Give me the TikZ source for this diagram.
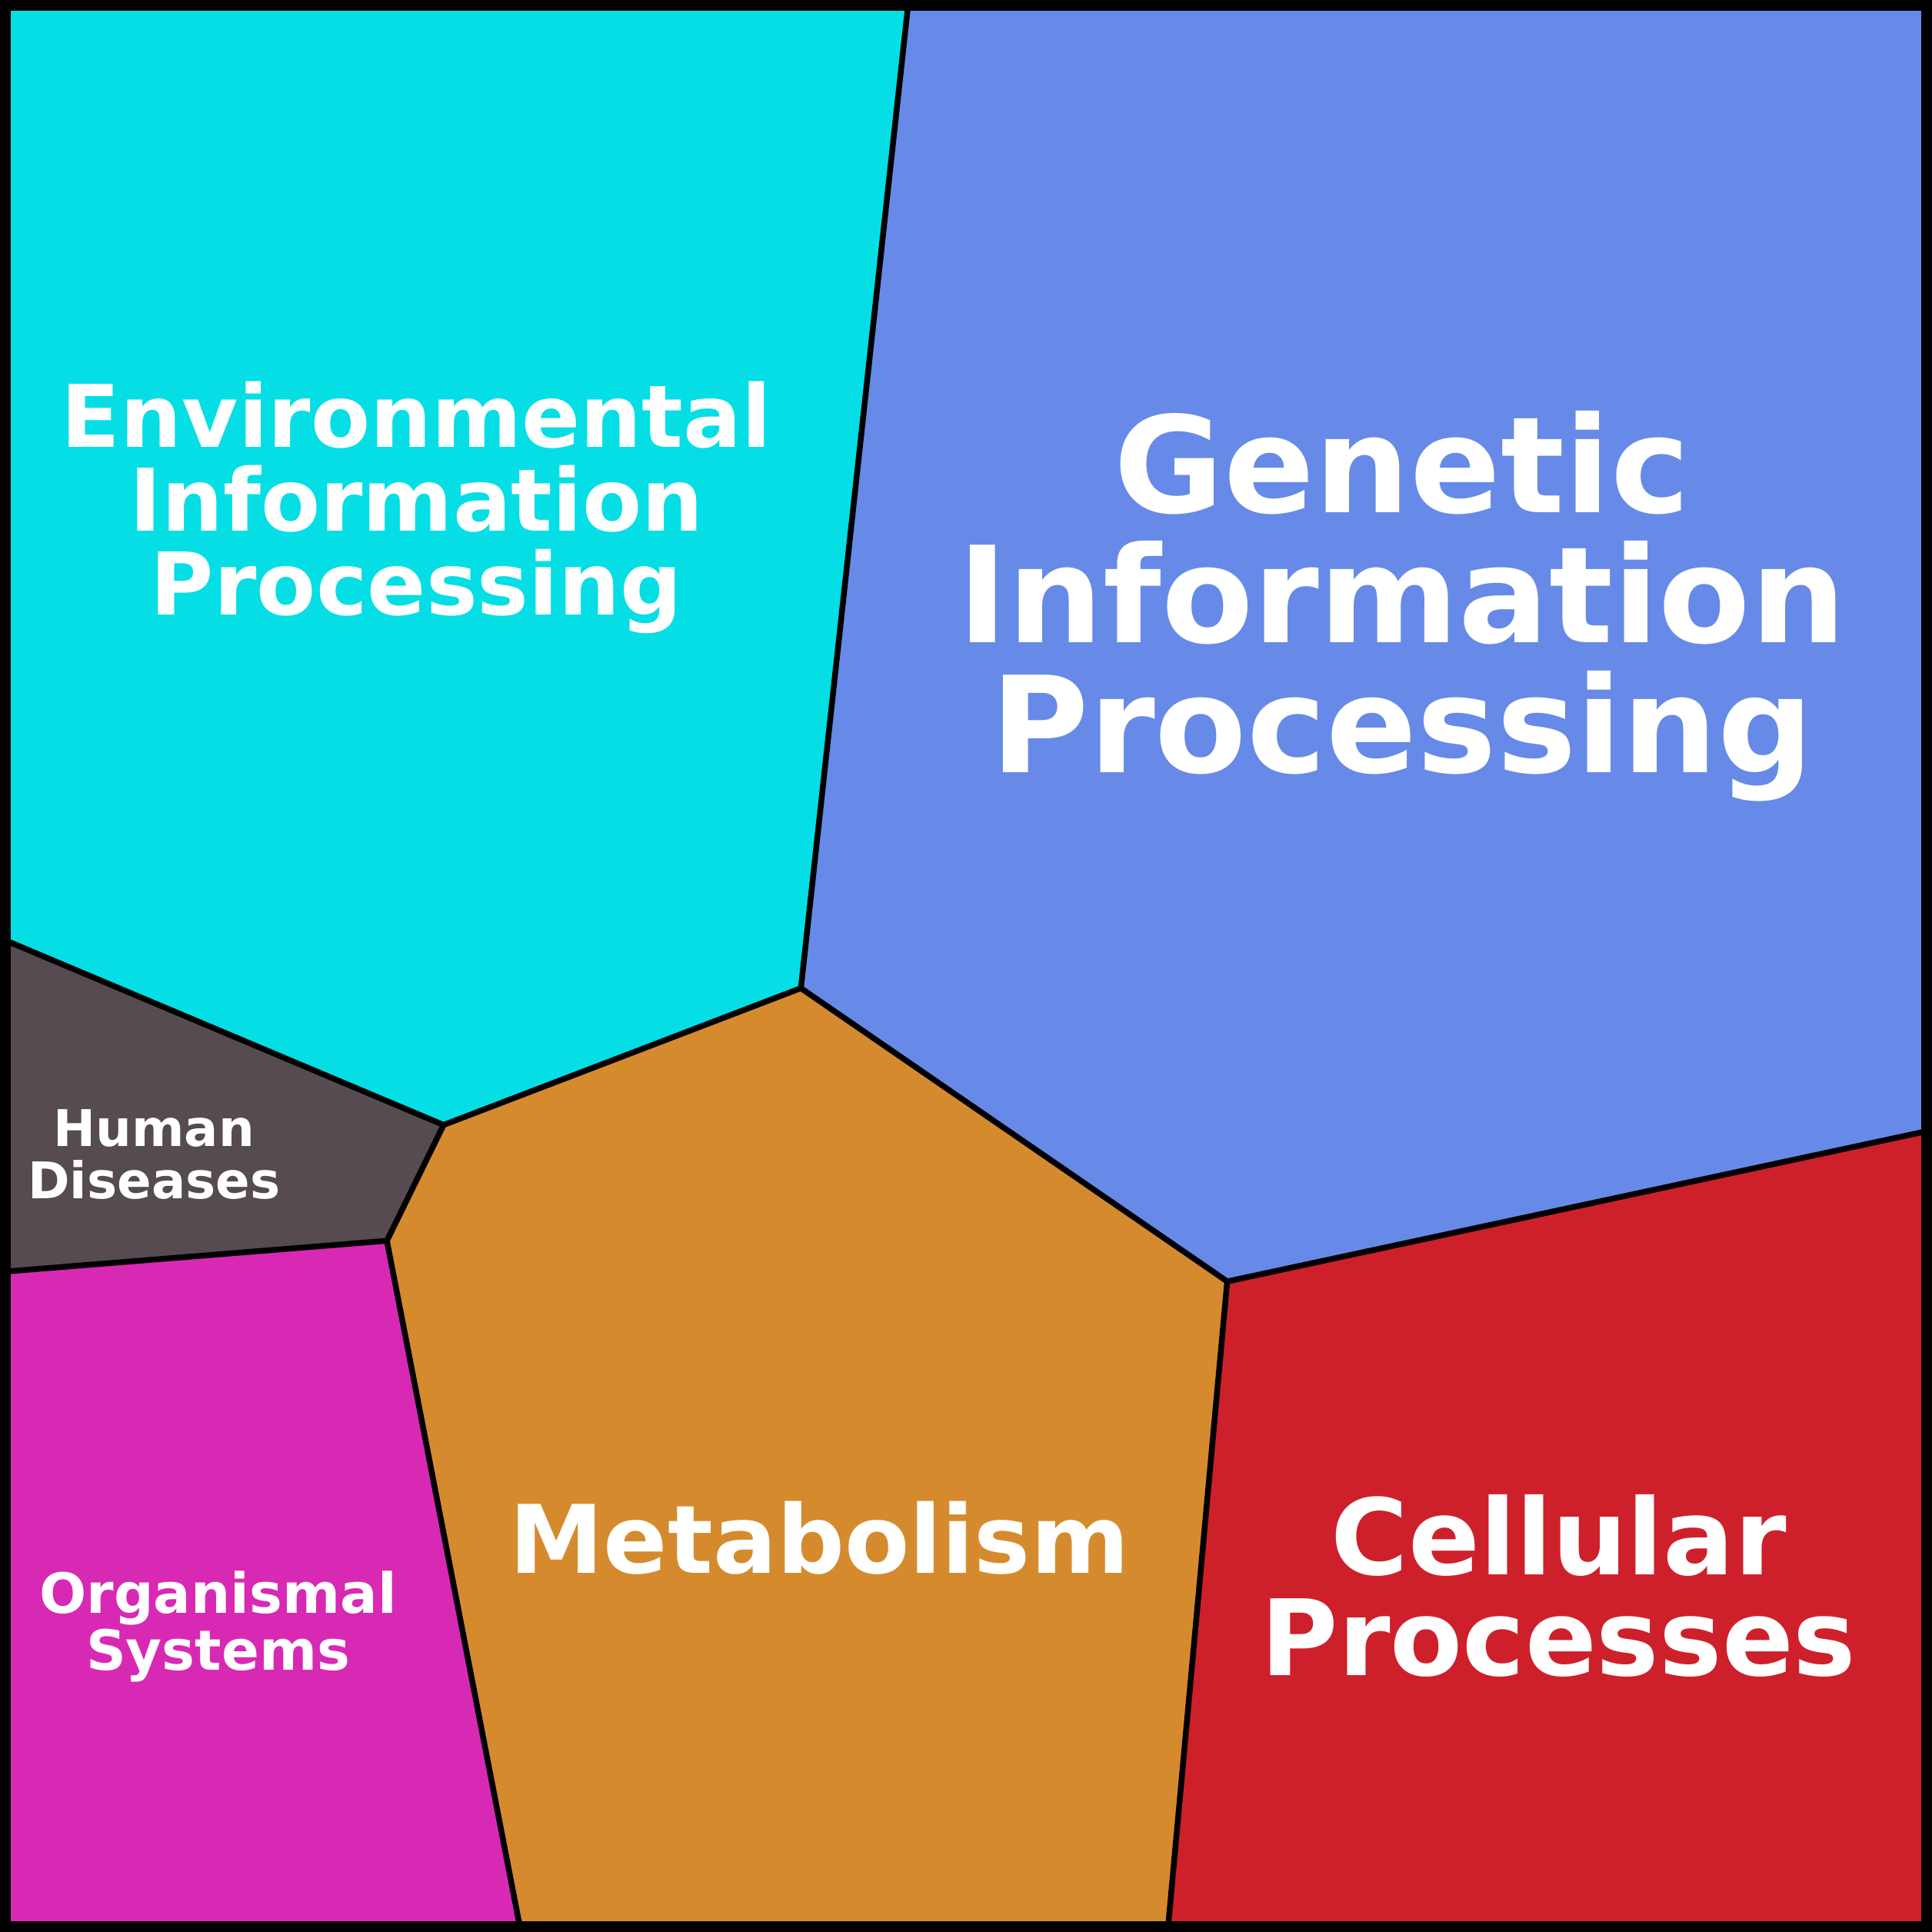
\documentclass[tikz,border=0pt]{standalone}
\usepackage{fontspec}
\setmainfont{DejaVu Sans}
\begin{document}
\begin{tikzpicture}[x=0.01602cm,y=-0.01602cm,
  edge/.style={draw=black,line width=0.075cm,line join=round},
  lbl/.style={text=white,align=center}]
\useasboundingbox (0,0) rectangle (1568,1568);
\coordinate (TL) at (4,4); \coordinate (TR) at (1564,4);
\coordinate (BL) at (4,1564); \coordinate (BR) at (1564,1564);
\coordinate (A) at (737,4); \coordinate (B) at (650,802);
\coordinate (C) at (4,763); \coordinate (D) at (360,913);
\coordinate (E) at (314,1007); \coordinate (F) at (4,1032);
\coordinate (G) at (422,1564); \coordinate (H) at (948,1564);
\coordinate (I) at (996,1040); \coordinate (J) at (1564,918);
\fill[fill={rgb,255:red,5;green,222;blue,229}] (TL)--(A)--(B)--(D)--(C)--cycle;
\fill[fill={rgb,255:red,103;green,138;blue,232}] (A)--(TR)--(J)--(I)--(B)--cycle;
\fill[fill={rgb,255:red,85;green,75;blue,80}] (C)--(D)--(E)--(F)--cycle;
\fill[fill={rgb,255:red,216;green,41;blue,180}] (F)--(E)--(G)--(BL)--cycle;
\fill[fill={rgb,255:red,213;green,139;blue,45}] (D)--(B)--(I)--(H)--(G)--(E)--cycle;
\fill[fill={rgb,255:red,206;green,32;blue,43}] (I)--(J)--(BR)--(H)--cycle;
\draw[edge] (A)--(B)--(D)--(C);
\draw[edge] (B)--(I)--(J);
\draw[edge] (D)--(E)--(F);
\draw[edge] (E)--(G);
\draw[edge] (I)--(H);
\draw[draw=black,line width=0.15cm] (TL) rectangle (BR);
\node[lbl,font=\fontsize{32}{31}\selectfont\bfseries] (env) at (338,412) {Environmental\\Information\\Processing};
\node[lbl,font=\fontsize{49.5}{48}\selectfont\bfseries] (gen) at (1138,492) {Genetic\\Information\\Processing};
\node[lbl,font=\fontsize{18.7}{19.2}\selectfont\bfseries] (hum) at (125,937) {Human\\Diseases};
\node[lbl,font=\fontsize{20.5}{21}\selectfont\bfseries] (org) at (177,1320) {Organismal\\Systems};
\node[lbl,font=\fontsize{35}{35}\selectfont\bfseries] (met) at (665,1248) {Metabolism};
\node[lbl,font=\fontsize{39}{37.5}\selectfont\bfseries] (cel) at (1265,1287) {Cellular\\Processes};
\end{tikzpicture}
\end{document}
